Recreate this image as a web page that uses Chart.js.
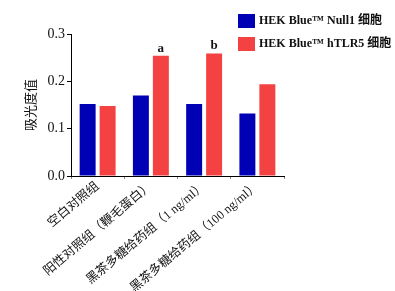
<!DOCTYPE html>
<html>
<head>
<meta charset="utf-8">
<script src="https://cdn.jsdelivr.net/npm/chart.js@4"></script>
<style>
  html, body { margin: 0; padding: 0; background: #fff; }
  #wrap { width: 395px; height: 291px; }
</style>
</head>
<body>
<div id="wrap"><canvas id="chart"></canvas></div>
<script>
const categories = ['空白对照组', '阳性对照组（鞭毛蛋白）', '黑茶多糖给药组（1 ng/ml）', '黑茶多糖给药组（100 ng/ml）']
const null1Values = [0.152, 0.170, 0.152, 0.132]
const tlr5Values = [0.148, 0.254, 0.259, 0.194]
const tlr5Marks = ['', 'a', 'b', '']
const yTicks = [0, 0.1, 0.2, 0.3]

const FONT = '"Liberation Serif", "Noto Sans CJK SC", serif'

// letters over the bars + legend box top right
const extras = {
  id: 'extras',
  afterDatasetsDraw(chart) {
    const ctx = chart.ctx
    const meta = chart.getDatasetMeta(1)
    ctx.save()
    ctx.fillStyle = '#111'
    ctx.font = 'bold 13px ' + FONT
    ctx.textAlign = 'center'
    ctx.textBaseline = 'bottom'
    meta.data.forEach((bar, i) => {
      if (tlr5Marks[i]) ctx.fillText(tlr5Marks[i], bar.x, bar.y - 1)
    })

    // legend
    ctx.textAlign = 'left'
    ctx.textBaseline = 'middle'
    chart.data.datasets.forEach((ds, i) => {
      const y = 14 + i * 23
      ctx.fillStyle = ds.backgroundColor
      ctx.fillRect(238, y, 17, 14)
      ctx.fillStyle = '#111'
      ctx.font = 'bold 12px ' + FONT
      ctx.fillText(ds.label, 259, y + 7)
    })
    ctx.restore()
  }
}

new Chart(document.getElementById('chart'), {
  type: 'bar',
  data: {
    labels: categories,
    datasets: [
      { label: 'HEK Blue™ Null1 细胞', data: null1Values, backgroundColor: '#0000b4' },
      { label: 'HEK Blue™ hTLR5 细胞', data: tlr5Values, backgroundColor: '#f44242' }
    ]
  },
  options: {
    responsive: true,
    maintainAspectRatio: false,
    animation: false,
    categoryPercentage: 0.75,
    barPercentage: 0.8,
    layout: { padding: { left: 0, right: 111, top: 34, bottom: 0 } },
    plugins: { legend: { display: false }, tooltip: { enabled: false } },
    scales: {
      x: {
        grid: { display: true, drawOnChartArea: false, tickLength: 3, color: '#888' },
        border: { display: true, color: '#000', width: 1 },
        ticks: {
          color: '#111',
          font: { family: FONT, size: 12.5 },
          maxRotation: 40,
          minRotation: 40,
          autoSkip: false,
          padding: 0
        },
        afterFit(scale) { scale.height = 115 }
      },
      y: {
        min: 0,
        max: 0.3,
        afterBuildTicks(scale) { scale.ticks = yTicks.map(v => ({ value: v })) },
        grid: { display: true, drawOnChartArea: false, tickLength: 4, color: '#000' },
        border: { display: true, color: '#000', width: 1 },
        ticks: {
          color: '#111',
          font: { family: FONT, size: 14 },
          padding: 2,
          callback: v => v.toFixed(1)
        },
        title: {
          display: true,
          text: '吸光度值',
          color: '#111',
          font: { family: FONT, size: 13 },
          padding: { top: 24, bottom: 6 }
        },
        afterFit(scale) { scale.width = 71 }
      }
    }
  },
  plugins: [extras]
})
</script>
</body>
</html>
